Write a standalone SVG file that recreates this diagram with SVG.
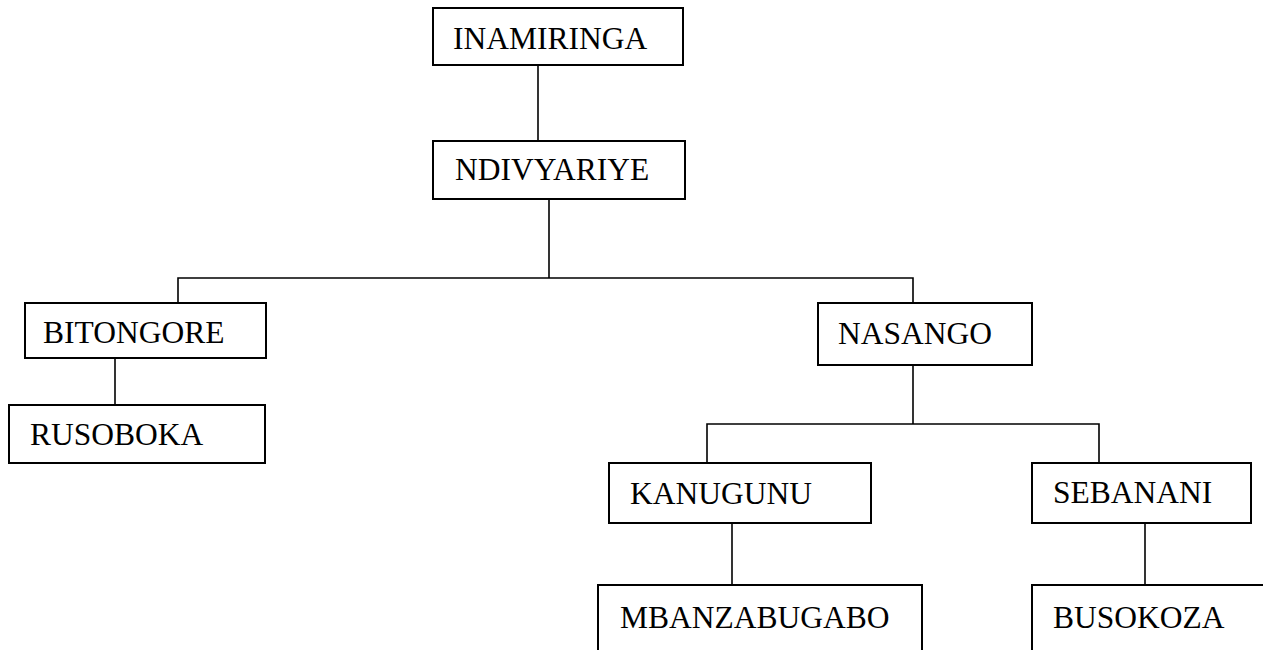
<svg xmlns="http://www.w3.org/2000/svg" width="1263" height="650" viewBox="0 0 1263 650">
<style>
.box{fill:#fff;stroke:#000;stroke-width:2}
.lbl{font-family:"Liberation Serif","Times New Roman",serif;font-size:31.5px;fill:#000}
.con{fill:none;stroke:#000;stroke-width:1.6}
</style>
<rect width="1263" height="650" fill="#fff"/>
<g id="connectors">
<line class="con" x1="538" y1="65" x2="538" y2="141"/>
<polyline class="con" points="549,199 549,278"/>
<polyline class="con" points="178,303 178,278 913,278 913,303"/>
<line class="con" x1="115" y1="358" x2="115" y2="405"/>
<polyline class="con" points="913,365 913,424"/>
<polyline class="con" points="707,463 707,424 1099,424 1099,463"/>
<line class="con" x1="732" y1="523" x2="732" y2="585"/>
<line class="con" x1="1145" y1="523" x2="1145" y2="585"/>
</g>
<g id="n-inamiringa"><rect class="box" x="433" y="8" width="250" height="57"/><text class="lbl" x="453" y="49">INAMIRINGA</text></g>
<g id="n-ndivyariye"><rect class="box" x="433" y="141" width="252" height="58"/><text class="lbl" x="455" y="180">NDIVYARIYE</text></g>
<g id="n-bitongore"><rect class="box" x="25" y="303" width="241" height="55"/><text class="lbl" x="43" y="343">BITONGORE</text></g>
<g id="n-rusoboka"><rect class="box" x="9" y="405" width="256" height="58"/><text class="lbl" x="30" y="445">RUSOBOKA</text></g>
<g id="n-nasango"><rect class="box" x="818" y="303" width="214" height="62"/><text class="lbl" x="838" y="344">NASANGO</text></g>
<g id="n-kanugunu"><rect class="box" x="609" y="463" width="262" height="60"/><text class="lbl" x="630" y="504">KANUGUNU</text></g>
<g id="n-sebanani"><rect class="box" x="1032" y="463" width="219" height="60"/><text class="lbl" x="1053" y="503">SEBANANI</text></g>
<g id="n-mbanzabugabo"><rect class="box" x="598" y="585" width="324" height="70"/><text class="lbl" x="620" y="628">MBANZABUGABO</text></g>
<g id="n-busokoza"><rect class="box" x="1032" y="585" width="240" height="70"/><text class="lbl" x="1053" y="628">BUSOKOZA</text></g>
</svg>
